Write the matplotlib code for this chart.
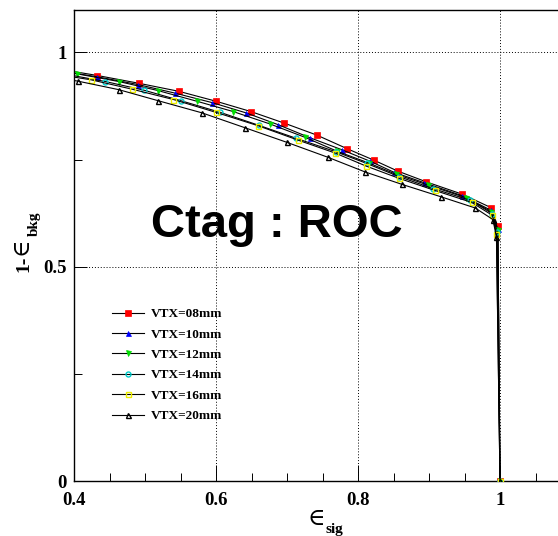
import matplotlib
matplotlib.use("Agg")
import matplotlib.pyplot as plt
from matplotlib.ticker import MultipleLocator

W, H = 558, 536

labels = ["VTX=08mm", "VTX=10mm", "VTX=12mm", "VTX=14mm", "VTX=16mm", "VTX=20mm"]
colors = ["#ff0000", "#0000ff", "#00dd00", "#00cccc", "#eeee00", "#000000"]
markers = ["s", "^", "v", "o", "s", "^"]
filled = [True, True, True, False, False, False]

x08 = [0.375, 0.433, 0.491, 0.548, 0.600, 0.649, 0.696, 0.742, 0.785, 0.823, 0.856, 0.896, 0.947, 0.987, 0.997, 1.0]
y08 = [0.962, 0.946, 0.928, 0.909, 0.886, 0.862, 0.835, 0.807, 0.775, 0.748, 0.723, 0.698, 0.669, 0.638, 0.594, 0.0]
x10 = [0.375, 0.433, 0.490, 0.542, 0.594, 0.642, 0.688, 0.732, 0.777, 0.817, 0.851, 0.893, 0.946, 0.987, 0.997, 1.0]
y10 = [0.958, 0.943, 0.925, 0.905, 0.883, 0.859, 0.831, 0.801, 0.773, 0.746, 0.720, 0.696, 0.666, 0.632, 0.588, 0.0]
x12 = [0.350, 0.404, 0.463, 0.518, 0.573, 0.624, 0.676, 0.725, 0.771, 0.815, 0.853, 0.899, 0.952, 0.988, 0.997, 1.0]
y12 = [0.965, 0.950, 0.932, 0.911, 0.886, 0.862, 0.833, 0.802, 0.769, 0.742, 0.716, 0.690, 0.661, 0.628, 0.585, 0.0]
x14 = [0.385, 0.444, 0.498, 0.551, 0.606, 0.660, 0.712, 0.769, 0.812, 0.858, 0.906, 0.958, 0.989, 0.996, 1.0]
y14 = [0.950, 0.932, 0.912, 0.887, 0.860, 0.830, 0.800, 0.768, 0.741, 0.710, 0.682, 0.655, 0.624, 0.580, 0.0]
x16 = [0.370, 0.424, 0.482, 0.540, 0.600, 0.659, 0.716, 0.768, 0.811, 0.858, 0.908, 0.960, 0.989, 0.995, 1.0]
y16 = [0.950, 0.936, 0.914, 0.890, 0.860, 0.829, 0.795, 0.765, 0.735, 0.706, 0.678, 0.650, 0.620, 0.577, 0.0]
x20 = [0.350, 0.405, 0.463, 0.519, 0.580, 0.641, 0.700, 0.758, 0.810, 0.862, 0.917, 0.965, 0.990, 0.995, 1.0]
y20 = [0.948, 0.933, 0.913, 0.887, 0.859, 0.824, 0.790, 0.755, 0.721, 0.692, 0.663, 0.637, 0.610, 0.569, 0.0]

xs = [x08, x10, x12, x14, x16, x20]
ys = [y08, y10, y12, y14, y16, y20]

xticks = [0.4, 0.6, 0.8, 1.0]
xticklabels = ["0.4", "0.6", "0.8", "1"]
yticks = [0, 0.5, 1.0]
yticklabels = ["0", "0.5", "1"]

serif = ["Liberation Serif", "DejaVu Serif"]
symfont = ["DejaVu Serif"]

fig = plt.figure(figsize=(W / 100, H / 100), dpi=100)
ax_left, ax_bottom = 74 / W, 1 - 481 / H
ax = fig.add_axes([ax_left, ax_bottom, 1 - ax_left, (481 - 9.5) / H])
ax.set_xlim(0.4, 0.4 + 484 / 710)
ax.set_ylim(0, 1.1)

for x, y, c, m, f, lab in zip(xs, ys, colors, markers, filled, labels):
    ms = 4.2 if m == "s" and f else 3.6
    ax.plot(x, y, color="black", lw=0.8, marker=m, ms=ms,
            markerfacecolor=c if f else "none", markeredgecolor=c,
            markeredgewidth=1.0 if not f else 0.5, label=lab, zorder=3)

ax.xaxis.set_major_locator(MultipleLocator(0.2))
ax.xaxis.set_minor_locator(MultipleLocator(0.05))
ax.yaxis.set_minor_locator(MultipleLocator(0.25))
ax.set_xticks(xticks)
ax.set_xticklabels(xticklabels)
ax.set_yticks(yticks)
ax.set_yticklabels(yticklabels)
for t in ax.get_xticklabels() + ax.get_yticklabels():
    t.set_fontfamily(serif)
    t.set_fontweight("bold")
    t.set_fontsize(13.5)
ax.tick_params(axis="x", which="major", direction="in", length=11.5, width=0.7, pad=8)
ax.tick_params(axis="x", which="minor", direction="in", length=5.8, width=0.7)
ax.tick_params(axis="y", which="major", direction="in", length=9.4, width=0.7, pad=5)
ax.tick_params(axis="y", which="minor", direction="in", length=5.8, width=0.7)
ax.grid(True, which="major", color="black", linestyle=(0, (1, 2)), lw=0.7)
for s in ["left", "bottom", "top"]:
    ax.spines[s].set_linewidth(1.0)
ax.spines["right"].set_visible(False)

leg = ax.legend(loc="upper left", bbox_to_anchor=(112 / W, 1 - 308 / H),
                bbox_transform=fig.transFigure, frameon=False, borderpad=0,
                borderaxespad=0, handlelength=2.4, handletextpad=0.55,
                labelspacing=0.62, prop={"family": serif, "weight": "bold", "size": 9.5})

fig.text(277 / W, 1 - 237 / H, "Ctag : ROC", ha="center", va="baseline",
         fontsize=34, fontweight="bold", family=["Liberation Sans", "DejaVu Sans"])

renderer = fig.canvas.get_renderer()

# x axis label
e1 = fig.text(307 / W, 1 - 525 / H, "\u2208", ha="left", va="baseline",
              fontsize=17, family=symfont)
bb = e1.get_window_extent(renderer)
fig.text((bb.x1 + 1) / W, 1 - 533 / H, "sig", ha="left", va="baseline",
         fontsize=11, fontweight="bold", family=serif)

# y axis label
t1 = fig.text(28 / W, 1 - 272 / H, "1-", ha="left", va="baseline", rotation=90,
              rotation_mode="anchor", fontsize=14, fontweight="bold", family=serif)
bb1 = t1.get_window_extent(renderer)
t2 = fig.text(28 / W, (bb1.y1 + 1) / H, "\u2208", ha="left", va="baseline", rotation=90,
              rotation_mode="anchor", fontsize=17, family=symfont)
bb2 = t2.get_window_extent(renderer)
fig.text(38 / W, (bb2.y1 + 1) / H, "bkg", ha="left", va="baseline", rotation=90,
         rotation_mode="anchor", fontsize=11, fontweight="bold", family=serif)

fig.savefig("out.png", dpi=100)
